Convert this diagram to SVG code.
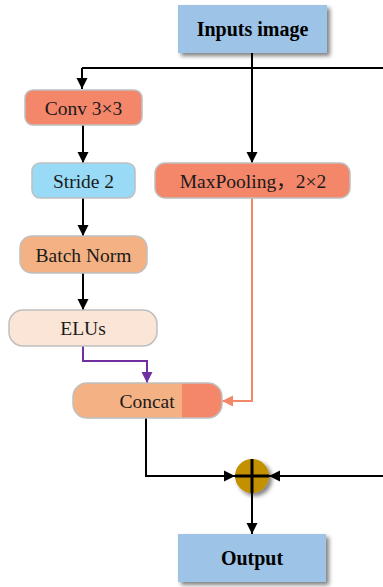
<svg xmlns="http://www.w3.org/2000/svg" width="383" height="587" viewBox="0 0 383 587">
  <defs>
    <marker id="ah-black" viewBox="0 0 10 10" refX="10" refY="5" markerWidth="11" markerHeight="12" markerUnits="userSpaceOnUse" orient="auto">
      <path d="M0,0 L10,5 L0,10 z" fill="#000"/>
    </marker>
    <marker id="ah-purple" viewBox="0 0 10 10" refX="10" refY="5" markerWidth="11" markerHeight="12" markerUnits="userSpaceOnUse" orient="auto">
      <path d="M0,0 L10,5 L0,10 z" fill="#7030A0"/>
    </marker>
    <marker id="ah-orange" viewBox="0 0 10 10" refX="10" refY="5" markerWidth="11" markerHeight="12" markerUnits="userSpaceOnUse" orient="auto">
      <path d="M0,0 L10,5 L0,10 z" fill="#F4866A"/>
    </marker>
    <filter id="shadow" x="-20%" y="-20%" width="150%" height="160%">
      <feGaussianBlur in="SourceAlpha" stdDeviation="2"/>
      <feOffset dx="3" dy="3" result="b"/>
      <feComponentTransfer><feFuncA type="linear" slope="0.5"/></feComponentTransfer>
      <feMerge><feMergeNode/><feMergeNode in="SourceGraphic"/></feMerge>
    </filter>
    <clipPath id="concat-clip">
      <rect x="73" y="383" width="149" height="35" rx="14"/>
    </clipPath>
  </defs>
  <style>
    .lbl { font-family: "Liberation Serif", "Noto Sans CJK SC", serif; font-size: 19.5px; fill: #1a1a1a; text-anchor: middle; dominant-baseline: central; }
    .bold { font-weight: bold; font-size: 20px; fill: #000; }
    .box { stroke: #BFBFBF; stroke-width: 1.5; }
    .io { fill: #9DC3E6; }
    .wire { fill: none; stroke: #000; stroke-width: 2; }
  </style>

  <!-- connectors -->
  <g id="connectors">
    <path class="wire" d="M82,68 H383"/>
    <path class="wire" d="M252,53 V68"/>
    <path class="wire" d="M82,68 V89" marker-end="url(#ah-black)"/>
    <path class="wire" d="M252,68 V163" marker-end="url(#ah-black)"/>
    <path class="wire" d="M83,125 V163" marker-end="url(#ah-black)"/>
    <path class="wire" d="M83,198 V236" marker-end="url(#ah-black)"/>
    <path class="wire" d="M83,273 V310" marker-end="url(#ah-black)"/>
    <path d="M83,346 V361 H147 V383" fill="none" stroke="#7030A0" stroke-width="2" marker-end="url(#ah-purple)"/>
    <path d="M252,198 V401 H222" fill="none" stroke="#F4866A" stroke-width="2" marker-end="url(#ah-orange)"/>
    <path class="wire" d="M146,418 V476 H235" marker-end="url(#ah-black)"/>
    <path class="wire" d="M383,476 H269" marker-end="url(#ah-black)"/>
    <path class="wire" d="M252,493 V534" marker-end="url(#ah-black)"/>
  </g>

  <g id="inputs">
    <rect class="io" x="178" y="5" width="149" height="48" filter="url(#shadow)"/>
    <text class="lbl bold" x="252.5" y="29">Inputs image</text>
  </g>

  <g id="conv">
    <rect class="box" x="25" y="90" width="117" height="35" rx="8" fill="#F4866A"/>
    <text class="lbl" x="83.5" y="108">Conv 3×3</text>
  </g>

  <g id="stride">
    <rect class="box" x="32" y="163" width="103" height="35" rx="8" fill="#99DAF6"/>
    <text class="lbl" x="83.5" y="181">Stride 2</text>
  </g>

  <g id="maxpool">
    <rect class="box" x="155" y="163" width="195" height="35" rx="10" fill="#F4866A"/>
    <text class="lbl" x="253" y="181">MaxPooling，2×2</text>
  </g>

  <g id="batchnorm">
    <rect class="box" x="20" y="236" width="127" height="37" rx="12" fill="#F4B183"/>
    <text class="lbl" x="83.5" y="255">Batch Norm</text>
  </g>

  <g id="elus">
    <rect class="box" x="9" y="310" width="148" height="36" rx="14" fill="#FBE5D6"/>
    <text class="lbl" x="83" y="328.5">ELUs</text>
  </g>

  <g id="concat">
    <g clip-path="url(#concat-clip)">
      <rect x="73" y="383" width="149" height="35" fill="#F4B183"/>
      <rect x="182" y="383" width="40" height="35" fill="#F4866A"/>
    </g>
    <rect class="box" x="73" y="383" width="149" height="35" rx="14" fill="none"/>
    <text class="lbl" x="147" y="401">Concat</text>
  </g>

  <g id="sum">
    <circle cx="252" cy="476" r="17" fill="#C39000" filter="url(#shadow)"/>
    <path d="M252,459 V493 M235,476 H269" stroke="#000" stroke-width="3"/>
  </g>

  <g id="output">
    <rect class="io" x="178" y="534" width="148" height="48" filter="url(#shadow)"/>
    <text class="lbl bold" x="252" y="558">Output</text>
  </g>
</svg>
